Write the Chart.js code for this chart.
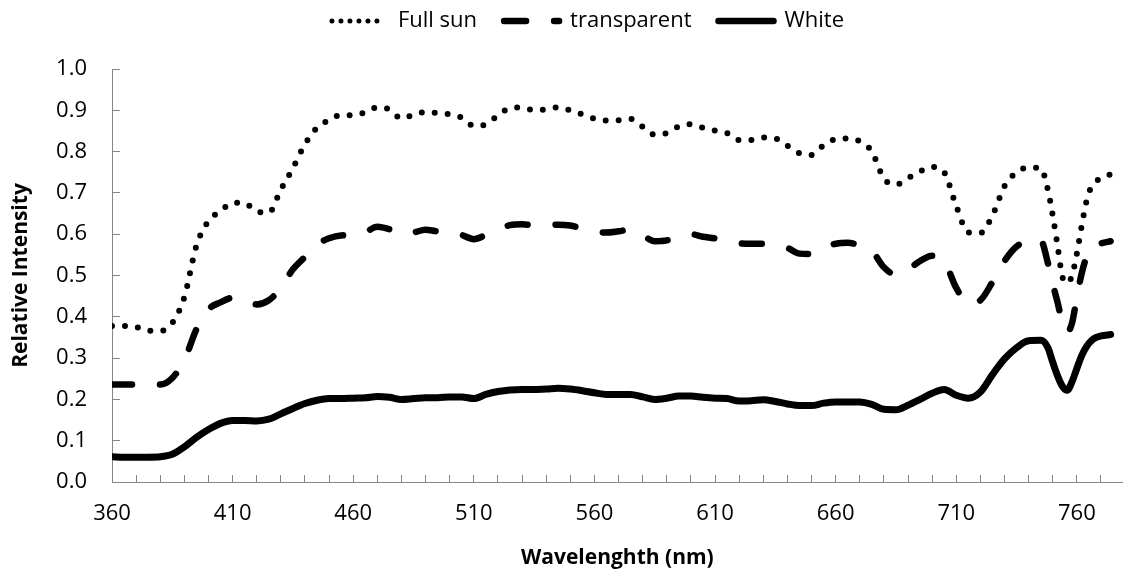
<!DOCTYPE html>
<html><head><meta charset="utf-8">
<script src="https://cdn.jsdelivr.net/npm/chart.js@4.4.1/dist/chart.umd.min.js"></script>
<style>html,body{margin:0;padding:0;background:#fff;}</style>
</head><body>
<canvas id="c" width="1127" height="579"></canvas>
<script>
const wavelengths = [360,365,370,375,380,385,390,395,400,405,410,415,420,425,430,435,440,445,450,455,460,465,470,475,480,485,490,495,500,505,510,515,520,525,530,535,540,545,550,555,560,565,570,575,580,585,590,595,600,605,610,615,620,625,630,635,640,645,650,655,660,665,670,675,680,685,690,695,700,705,710,715,720,725,730,735,740,745,748,750,752,754,756,758,760,762,764,766,768,770,774];
const fullSun = [0.378,0.378,0.375,0.366,0.366,0.385,0.448,0.572,0.632,0.656,0.676,0.675,0.655,0.652,0.708,0.760,0.818,0.858,0.876,0.889,0.888,0.895,0.907,0.902,0.880,0.889,0.896,0.893,0.890,0.882,0.862,0.866,0.888,0.905,0.907,0.900,0.902,0.907,0.900,0.890,0.880,0.875,0.876,0.879,0.860,0.841,0.845,0.861,0.866,0.858,0.851,0.845,0.828,0.828,0.834,0.832,0.814,0.796,0.792,0.815,0.830,0.832,0.825,0.800,0.735,0.720,0.736,0.752,0.763,0.750,0.668,0.604,0.603,0.645,0.716,0.750,0.761,0.760,0.707,0.645,0.572,0.497,0.482,0.500,0.553,0.620,0.680,0.715,0.728,0.736,0.745];
const transparentSeries = [0.236,0.236,0.236,0.236,0.236,0.252,0.295,0.370,0.418,0.435,0.446,0.444,0.430,0.440,0.470,0.515,0.545,0.575,0.590,0.597,0.598,0.605,0.618,0.612,0.600,0.604,0.611,0.607,0.606,0.598,0.588,0.598,0.610,0.622,0.624,0.622,0.622,0.623,0.621,0.614,0.607,0.604,0.607,0.611,0.597,0.583,0.585,0.596,0.600,0.594,0.590,0.583,0.578,0.577,0.577,0.574,0.567,0.553,0.552,0.568,0.577,0.579,0.573,0.560,0.520,0.502,0.515,0.535,0.548,0.535,0.470,0.432,0.440,0.484,0.535,0.570,0.585,0.585,0.530,0.480,0.435,0.385,0.363,0.385,0.448,0.505,0.545,0.568,0.575,0.578,0.583];
const white = [0.061,0.060,0.060,0.060,0.061,0.067,0.085,0.108,0.127,0.142,0.149,0.149,0.148,0.152,0.165,0.178,0.190,0.198,0.202,0.202,0.203,0.204,0.207,0.205,0.200,0.202,0.204,0.204,0.206,0.206,0.202,0.212,0.219,0.223,0.224,0.224,0.225,0.227,0.225,0.221,0.216,0.212,0.212,0.212,0.206,0.200,0.203,0.208,0.208,0.205,0.203,0.202,0.196,0.197,0.199,0.195,0.189,0.185,0.185,0.191,0.194,0.194,0.194,0.188,0.176,0.175,0.186,0.200,0.215,0.224,0.210,0.203,0.218,0.260,0.298,0.325,0.342,0.343,0.325,0.290,0.257,0.232,0.222,0.243,0.275,0.306,0.328,0.342,0.350,0.354,0.357];
const seriesNames = ['Full sun', 'transparent', 'White'];
const xTickLabels = [360,410,460,510,560,610,660,710,760];
const xTickMarks = [360,370,380,390,400,410,420,430,440,450,460,470,480,490,500,510,520,530,540,550,560,570,580,590,600,610,620,630,640,650,660,670,680,690,700,710,720,730,740,750,760,770];
const yTickValues = [0,0.1,0.2,0.3,0.4,0.5,0.6,0.7,0.8,0.9,1.0];

const FONT = "'Open Sans', 'DejaVu Sans', sans-serif";
const AXIS_COLOR = '#868686';
const toPts = arr => wavelengths.map((w, i) => ({x: w, y: arr[i]}));

const legendStyles = [
  {lineDash: [0, 9, 0, 9, 0, 9, 0, 9, 0, 9, 0, 40], lineWidth: 5, lineDashOffset: 0},
  {lineDash: [22, 28], lineWidth: 6.5, lineDashOffset: 0},
  {lineDash: [], lineWidth: 6.5, lineDashOffset: 0}
];

const legendGap = {
  id: 'legendGap',
  beforeInit(chart) {
    const origFit = chart.legend.fit;
    chart.legend.fit = function () {
      origFit.bind(chart.legend)();
      this.height += 27;
    };
  },
  afterLayout(chart) {
    chart.legend.left += 25;
    chart.legend.right += 25;
  }
};

new Chart(document.getElementById('c'), {
  type: 'line',
  plugins: [legendGap],
  data: {
    datasets: [
      {label: seriesNames[0], data: toPts(fullSun), borderColor: '#000', backgroundColor: '#000',
       borderWidth: 6, borderDash: [0, 13], borderCapStyle: 'round', borderJoinStyle: 'round',
       pointRadius: 0, cubicInterpolationMode: 'monotone', fill: false},
      {label: seriesNames[1], data: toPts(transparentSeries), borderColor: '#000', backgroundColor: '#000',
       borderWidth: 6.5, borderDash: [20, 28], borderCapStyle: 'round', borderJoinStyle: 'round',
       pointRadius: 0, cubicInterpolationMode: 'monotone', fill: false},
      {label: seriesNames[2], data: toPts(white), borderColor: '#000', backgroundColor: '#000',
       borderWidth: 7, borderCapStyle: 'round', borderJoinStyle: 'round',
       pointRadius: 0, cubicInterpolationMode: 'monotone', fill: false}
    ]
  },
  options: {
    responsive: false,
    animation: false,
    devicePixelRatio: 1,
    layout: {padding: {left: 0, right: 1, top: -17, bottom: 0}},
    plugins: {
      tooltip: {enabled: false},
      legend: {
        display: true, position: 'top', align: 'center',
        labels: {
          usePointStyle: true, pointStyle: 'line', pointStyleWidth: 55,
          padding: 27, color: '#000',
          font: {family: FONT, size: 22},
          generateLabels(chart) {
            const items = Chart.defaults.plugins.legend.labels.generateLabels(chart);
            items.forEach((it, i) => {
              Object.assign(it, legendStyles[i]);
              it.pointStyle = 'line';
              it.lineCap = 'round';
              it.strokeStyle = '#000';
            });
            return items;
          }
        }
      }
    },
    scales: {
      x: {
        type: 'linear', min: 360, max: 779,
        afterFit(s) { s.height = 97; },
        afterBuildTicks(s) { s.ticks = xTickMarks.map(v => ({value: v})); },
        ticks: {
          autoSkip: false, maxRotation: 0, minRotation: 0, padding: 26, color: '#000',
          font: {family: FONT, size: 22},
          callback: v => xTickLabels.includes(v) ? String(v) : ''
        },
        grid: {display: true, drawOnChartArea: false, drawTicks: true, tickLength: -7, tickColor: AXIS_COLOR, lineWidth: 1},
        border: {display: true, color: AXIS_COLOR, width: 1},
        title: {display: true, text: 'Wavelenghth (nm)', color: '#000',
          font: {family: FONT, size: 21, weight: 'bold'}, padding: {top: 0, bottom: 8}}
      },
      y: {
        type: 'linear', min: 0, max: 1,
        afterFit(s) { s.width = 112; },
        afterBuildTicks(s) { s.ticks = yTickValues.map(v => ({value: v})); },
        ticks: {
          padding: 33, color: '#000',
          font: {family: FONT, size: 22},
          callback: v => Number(v).toFixed(1)
        },
        grid: {display: true, drawOnChartArea: false, drawTicks: true, tickLength: -8, tickColor: AXIS_COLOR, lineWidth: 1},
        border: {display: true, color: AXIS_COLOR, width: 1},
        title: {display: true, text: 'Relative Intensity', color: '#000',
          font: {family: FONT, size: 21, weight: 'bold'}, padding: {top: 8, bottom: 0}}
      }
    }
  }
});
</script>
</body></html>
